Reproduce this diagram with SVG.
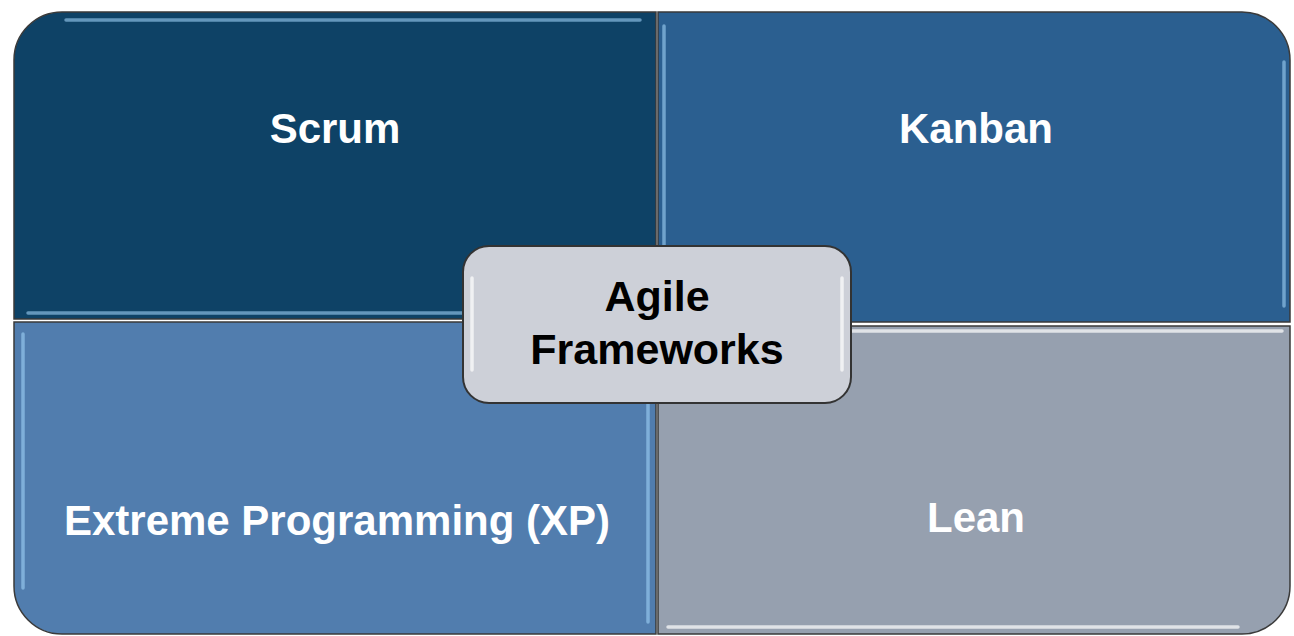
<svg xmlns="http://www.w3.org/2000/svg" width="1294" height="636" viewBox="0 0 1294 636">
<style>
.q{stroke:#3a3a3a;stroke-width:1.5}
.hl{stroke:#9fd0f5;stroke-width:3.5;stroke-linecap:round;fill:none;opacity:0.6}
.hw{stroke:#ffffff;stroke-width:3.5;stroke-linecap:round;fill:none;opacity:0.7}
.t{font-family:"Liberation Sans",Arial,sans-serif;font-weight:bold;font-size:42px;text-anchor:middle;fill:#ffffff}
.c{fill:#000000;font-size:43px}
</style>
<rect width="1294" height="636" fill="#ffffff"/>
<g id="scrum">
<path class="q" d="M14,60 A48,48 0 0 1 62,12 L656,12 L656,319 L14,319 Z" fill="#0e4266"/>
<path class="hl" d="M66,20 L640,20"/>
<path class="hl" d="M28,313 L640,313" opacity="0.5"/>
<text class="t" x="335" y="143">Scrum</text>
</g>
<g id="kanban">
<path class="q" d="M658,12 L1242,12 A48,48 0 0 1 1290,60 L1290,322 L658,322 Z" fill="#2b5f90"/>
<path class="hl" d="M664,26 L664,310"/>
<path class="hl" d="M1284,62 L1284,306"/>
<text class="t" x="976" y="143">Kanban</text>
</g>
<g id="xp">
<path class="q" d="M14,322 L656,322 L656,634 L62,634 A48,48 0 0 1 14,586 Z" fill="#517dae"/>
<path class="hl" d="M23,334 L23,588"/>
<path class="hl" d="M648,334 L648,622"/>
<text class="t" x="337" y="535">Extreme Programming (XP)</text>
</g>
<g id="lean">
<path class="q" d="M658,326 L1290,326 L1290,586 A48,48 0 0 1 1242,634 L658,634 Z" fill="#96a0af"/>
<path class="hw" d="M668,331 L1282,331"/>
<path class="hw" d="M668,627 L1238,627"/>
<text class="t" x="976" y="532">Lean</text>
</g>
<g id="agile-frameworks">
<rect x="463" y="246" width="388" height="157" rx="26" ry="26" fill="#cdd0d8" stroke="#333333" stroke-width="2"/>
<path class="hw" d="M472,278 L472,370"/>
<path class="hw" d="M842,278 L842,370"/>
<text class="t c" x="657" y="311">Agile</text>
<text class="t c" x="657" y="364">Frameworks</text>
</g>
</svg>
